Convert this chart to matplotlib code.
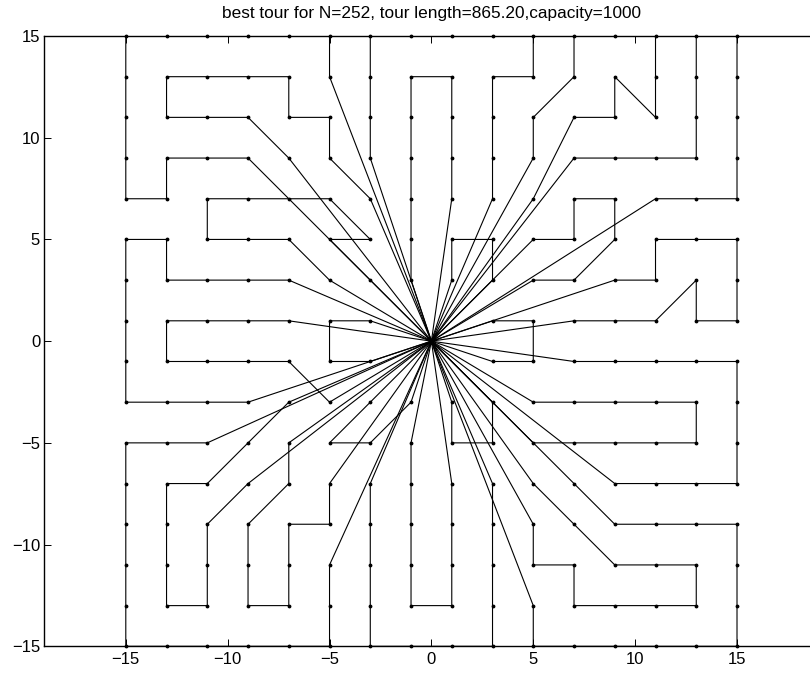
import matplotlib
matplotlib.use("Agg")
import matplotlib.pyplot as plt

plt.rcParams["font.family"] = ["Liberation Sans", "DejaVu Sans"]
plt.rcParams["axes.unicode_minus"] = True

# depot sits at the origin; every route leaves from it and comes back to it
depot = (0, 0)

# city grid: odd coordinates, the four cells around the depot are empty
grid_vals = list(range(-15, 16, 2))
empty_cells = [(-1, -1), (-1, 1), (1, -1), (1, 1)]

route_a = [(-5, 13), (-5, 15), (-7, 15), (-9, 15), (-11, 15), (-13, 15), (-15, 15), (-15, 13),
           (-15, 11), (-15, 9), (-15, 7), (-13, 7), (-13, 9), (-11, 9), (-9, 9)]
route_b = [(-3, 7), (-5, 9), (-5, 11), (-7, 11), (-7, 13), (-9, 13), (-11, 13), (-13, 13),
           (-13, 11), (-11, 11), (-9, 11), (-7, 9)]
route_c = [(-3, 9), (-3, 11), (-3, 13), (-3, 15), (-1, 15), (1, 15), (3, 15), (5, 15),
           (5, 13), (3, 13), (3, 11), (3, 9), (3, 7)]
route_d = [(1, 7), (1, 9), (1, 11), (1, 13), (-1, 13), (-1, 11), (-1, 9), (-1, 7), (-1, 5), (-1, 3)]
route_e = [(-5, 3), (-7, 5), (-9, 5), (-11, 5), (-11, 7), (-9, 7), (-7, 7), (-5, 7), (-3, 5),
           (-5, 5), (-3, 3)]
route_g = [(-7, 3), (-9, 3), (-11, 3), (-13, 3), (-13, 5), (-15, 5), (-15, 3), (-15, 1),
           (-15, -1), (-15, -3), (-13, -3), (-11, -3), (-9, -3)]
route_h = [(-7, 1), (-9, 1), (-11, 1), (-13, 1), (-13, -1), (-11, -1), (-9, -1), (-7, -1), (-5, -3)]
route_i = [(-3, 1), (-5, 1), (-5, -1), (-3, -1)]
route_j = [(-11, -5), (-13, -5), (-15, -5), (-15, -7), (-15, -9), (-15, -11), (-15, -13),
           (-15, -15), (-13, -15), (-11, -15), (-9, -15), (-7, -15), (-5, -15), (-5, -13), (-5, -11)]
route_k = [(-7, -3), (-9, -5), (-11, -7), (-13, -7), (-13, -9), (-13, -11), (-13, -13),
           (-11, -13), (-11, -11), (-11, -9), (-9, -7)]
route_l = [(-7, -5), (-7, -7), (-9, -9), (-9, -11), (-9, -13), (-7, -13), (-7, -11), (-7, -9),
           (-5, -9), (-5, -7)]
route_m = [(-3, -7), (-3, -9), (-3, -11), (-3, -13), (-3, -15), (-1, -15), (1, -15), (3, -15),
           (3, -13), (3, -11), (3, -9), (3, -7)]
route_n = [(1, -7), (1, -9), (1, -11), (1, -13), (-1, -13), (-1, -11), (-1, -9), (-1, -7), (-1, -5)]
route_o = [(-1, -3), (-3, -5), (-5, -5), (-3, -3)]
route_p = [(5, -13), (5, -15), (7, -15), (9, -15), (11, -15), (13, -15), (15, -15), (15, -13),
           (15, -11), (15, -9), (13, -9), (11, -9), (9, -9), (7, -7)]
route_q = [(5, -9), (5, -11), (7, -11), (7, -13), (9, -13), (11, -13), (13, -13), (13, -11),
           (11, -11), (9, -11), (7, -9), (5, -7)]
route_r = [(9, -7), (11, -7), (13, -7), (15, -7), (15, -5), (15, -3), (15, -1), (13, -1),
           (11, -1), (9, -1), (7, -1)]
route_s = [(5, -5), (7, -5), (9, -5), (11, -5), (13, -5), (13, -3), (11, -3), (9, -3), (7, -3), (5, -3)]
route_t = [(3, 1), (5, 1), (5, -1), (3, -1)]
route_u = [(1, -3), (1, -5), (3, -5), (3, -3)]
route_v = [(1, 3), (1, 5), (3, 5), (3, 3)]
route_w = [(7, 1), (9, 1), (11, 1), (13, 3), (13, 1), (15, 1), (15, 3), (15, 5), (13, 5),
           (11, 5), (11, 3), (9, 3)]
route_x = [(5, 3), (7, 3), (9, 5), (9, 7), (7, 7), (7, 5), (5, 5)]
route_y = [(11, 7), (13, 7), (15, 7), (15, 9), (15, 11), (15, 13), (15, 15), (13, 15), (13, 13),
           (13, 11), (13, 9), (11, 9), (9, 9), (7, 9)]
route_z = [(5, 7), (7, 11), (9, 11), (9, 13), (11, 11), (11, 13), (11, 15), (9, 15), (7, 15),
           (7, 13), (5, 11), (5, 9)]

routes = [route_a, route_b, route_c, route_d, route_e, route_g, route_h, route_i, route_j,
          route_k, route_l, route_m, route_n, route_o, route_p, route_q, route_r, route_s,
          route_t, route_u, route_v, route_w, route_x, route_y, route_z]

title = "best tour for N=252, tour length=865.20,capacity=1000"

fig = plt.figure(figsize=(8.1, 6.77), dpi=100)
# axes run from -19 to 19 in x; the right end falls past the figure edge
ax = fig.add_axes([44.3 / 810, 30.7 / 677, 774.2 / 810, 610.3 / 677])

for route in routes:
    xs = [depot[0]] + [p[0] for p in route] + [depot[0]]
    ys = [depot[1]] + [p[1] for p in route] + [depot[1]]
    ax.plot(xs, ys, color="black", lw=0.8, zorder=2)

cities = [(x, y) for x in grid_vals for y in grid_vals if (x, y) not in empty_cells]
ax.plot([c[0] for c in cities], [c[1] for c in cities], "k.", ms=3.5, clip_on=False, zorder=3)
ax.plot([depot[0]], [depot[1]], "k.", ms=3.5, zorder=3)

ax.set_xlim(-19, 19)
ax.set_ylim(-15, 15)
ax.set_xticks([-15, -10, -5, 0, 5, 10, 15])
ax.set_yticks([-15, -10, -5, 0, 5, 10, 15])
ax.tick_params(direction="in", top=True, right=True, length=5, width=0.7,
               labelsize=12, pad=4)
ax.tick_params(axis="y", pad=3)
for side in ax.spines.values():
    side.set_linewidth(1.0)
ax.set_title(title, fontsize=12.4, pad=13)

fig.savefig("out.png", dpi=100)
